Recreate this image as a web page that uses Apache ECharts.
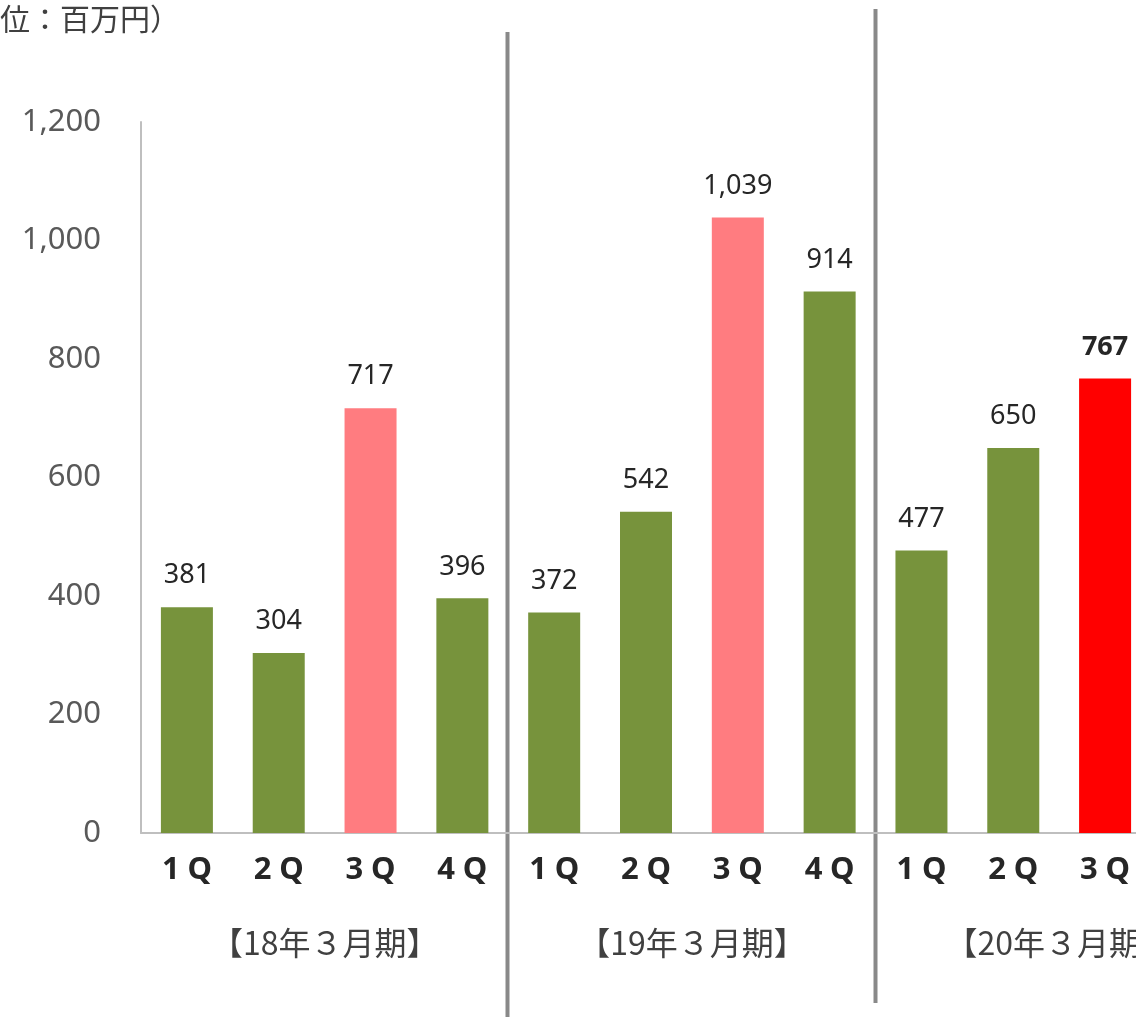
<!DOCTYPE html>
<html>
<head>
<meta charset="utf-8">
<script src="https://cdn.jsdelivr.net/npm/echarts@6/dist/echarts.min.js"></script>
<style>
  html, body { margin: 0; padding: 0; background: #ffffff; overflow: hidden; width: 1136px; height: 1017px; }
  /* plot area runs slightly past the right edge of the page */
  #chart { width: 1151px; height: 1017px; }
</style>
</head>
<body>
<div id="chart"></div>
<script>
// Quarterly figures (million yen) by fiscal year
const quarters = ['1Q', '2Q', '3Q', '4Q', '1Q', '2Q', '3Q', '4Q', '1Q', '2Q', '3Q'];
const values = [381, 304, 717, 396, 372, 542, 1039, 914, 477, 650, 767];
// Bar kind: 0 = normal quarter, 1 = past 3Q, 2 = current 3Q
const barKind = [0, 0, 1, 0, 0, 0, 1, 0, 0, 0, 2];
const fiscalYears = ['【18年３月期】', '【19年３月期】', '【20年３月期】'];
const fiscalStart = [0, 4, 8];
const yTicks = { min: 0, max: 1200, interval: 200 };
const unitLabel = '（単位：百万円）';

const kindColors = ['#77933C', '#FF7C80', '#FF0000'];
const numFont = '"Noto Sans", "DejaVu Sans", sans-serif';
const jpFont = '"Noto Sans CJK JP", "Noto Sans", sans-serif';

const chart = echarts.init(document.getElementById('chart'), null, { renderer: 'canvas' });

const barData = values.map((v, i) => {
  const item = { value: v, itemStyle: { color: kindColors[barKind[i]] } };
  if (barKind[i] === 2) {
    item.label = { fontWeight: 'bold' };
  }
  return item;
});

chart.setOption({
  animation: false,
  backgroundColor: '#ffffff',
  grid: { left: 141, right: 0, top: 122, bottom: 184, containLabel: false },
  xAxis: {
    type: 'category',
    data: quarters,
    axisLine: { show: true, lineStyle: { color: '#BFBFBF', width: 2 } },
    axisTick: { show: false },
    axisLabel: {
      margin: 22,
      color: '#262626',
      fontFamily: numFont,
      fontWeight: 'bold',
      fontSize: 31,
      formatter: q => q.split('').join('\u2005')
    }
  },
  yAxis: {
    type: 'value',
    min: yTicks.min,
    max: yTicks.max,
    interval: yTicks.interval,
    splitLine: { show: false },
    axisLine: { show: true, lineStyle: { color: '#BFBFBF', width: 2 } },
    axisTick: { show: false },
    axisLabel: {
      margin: 40,
      color: '#595959',
      fontFamily: numFont,
      fontSize: 31,
      formatter: v => v.toLocaleString('en-US')
    }
  },
  series: [{
    type: 'bar',
    data: barData,
    barWidth: 52,
    label: {
      show: true,
      position: 'top',
      distance: 18,
      color: '#262626',
      fontFamily: numFont,
      fontSize: 27,
      formatter: p => p.value.toLocaleString('en-US')
    }
  }]
});

// Fiscal-year dividers, group captions and unit note
function px(idx) {
  return chart.convertToPixel({ xAxisIndex: 0 }, idx);
}
const step = px(1) - px(0);
const graphics = [];

graphics.push({
  type: 'text',
  left: -60,
  top: 4,
  style: { text: unitLabel, fill: '#404040', font: '30px ' + jpFont }
});

const dividerTops = [32, 9];
const dividerBottoms = [1017, 1003];
fiscalStart.slice(1).forEach((s, i) => {
  const x = Math.round(px(s) - step / 2) - 0.5;
  graphics.push({
    type: 'line',
    shape: { x1: x, y1: dividerTops[i], x2: x, y2: dividerBottoms[i] },
    style: { stroke: '#898989', lineWidth: 4 }
  });
});

fiscalYears.forEach((name, i) => {
  const cx = px(fiscalStart[i]) + step * 1.5;
  graphics.push({
    type: 'text',
    x: cx,
    y: 943,
    style: {
      text: name,
      fill: '#404040',
      font: '32px ' + jpFont,
      textAlign: 'center',
      textVerticalAlign: 'middle'
    }
  });
});

chart.setOption({ graphic: graphics });
</script>
</body>
</html>
